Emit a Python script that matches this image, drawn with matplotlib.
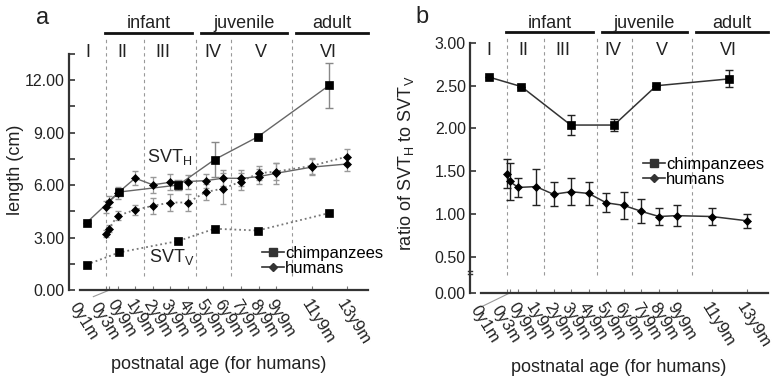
import numpy as np
import matplotlib.pyplot as plt
from matplotlib.lines import Line2D
from matplotlib.transforms import ScaledTranslation

plt.rcParams['font.family'] = ['Liberation Sans', 'DejaVu Sans']
plt.rcParams['mathtext.fontset'] = 'custom'
plt.rcParams['mathtext.rm'] = 'Liberation Sans'
plt.rcParams['mathtext.it'] = 'Liberation Sans'

# ages in (human-equivalent) years
human_age = [0.083, 0.25, 0.75, 1.75, 2.75, 3.75, 4.75, 5.75, 6.75, 7.75, 8.75, 9.75, 11.75, 13.75]
age_labels = ['0y1m', '0y3m', '0y9m', '1y9m', '2y9m', '3y9m', '4y9m', '5y9m', '6y9m',
              '7y9m', '8y9m', '9y9m', '11y9m', '13y9m']
chimp_age_a = [-1.0, 0.86, 4.2, 6.25, 8.7, 12.76]
chimp_age_b = [-0.9, 0.92, 3.73, 6.19, 8.6, 12.73]

# panel a: length (cm)
chimp_h = [3.85, 5.6, 6.0, 7.45, 8.75, 11.7]
chimp_h_err = [0.0, 0.2, 0.3, 1.0, 0.0, 1.3]
chimp_v = [1.45, 2.15, 2.8, 3.5, 3.4, 4.4]
human_h = [4.73, 5.05, 5.53, 6.39, 6.01, 6.16, 6.2, 6.25, 6.39, 6.38, 6.48, 6.67, 7.02, 7.2]
human_h_err = [0.35, 0.3, 0.35, 0.4, 0.45, 0.45, 0.4, 0.4, 0.45, 0.45, 0.45, 0.6, 0.45, 0.4]
human_v = [3.21, 3.49, 4.24, 4.58, 4.81, 5.0, 5.0, 5.6, 5.8, 6.2, 6.67, 6.77, 7.09, 7.62]
human_v_err = [0.2, 0.2, 0.25, 0.3, 0.45, 0.5, 0.5, 0.45, 0.9, 0.5, 0.4, 0.5, 0.45, 0.45]

# panel b: ratio SVT_H / SVT_V
chimp_ratio = [2.60, 2.49, 2.04, 2.04, 2.50, 2.58]
chimp_ratio_err = [0.0, 0.0, 0.12, 0.07, 0.0, 0.1]
human_ratio = [1.47, 1.38, 1.31, 1.32, 1.23, 1.26, 1.24, 1.13, 1.10, 1.03, 0.97, 0.98, 0.97, 0.92]
human_ratio_err = [0.17, 0.22, 0.11, 0.21, 0.14, 0.16, 0.13, 0.11, 0.16, 0.14, 0.1, 0.12, 0.1, 0.08]

# developmental periods
period_bounds = [0.09, 2.23, 5.22, 7.21, 10.63]
roman = ['I', 'II', 'III', 'IV', 'V', 'VI']
roman_x = [-0.92, 1.03, 3.3, 6.15, 8.9, 12.72]
groups = ['infant', 'juvenile', 'adult']
group_span = [(0.06, 5.0), (5.48, 10.35), (10.85, 14.93)]

# the two first age labels are moved left of their ticks (crowded)
moved_label_x = [-1.45, -0.25]

W, H = 781, 376
fig = plt.figure(figsize=(W / 100, H / 100), dpi=100)
ax_a = fig.add_axes([69 / W, 1 - 290 / H, 299 / W, (290 - 53.75) / H])
ax_b = fig.add_axes([470 / W, 1 - 293 / H, 298 / W, 250 / H])

SPINE = '#333333'


def common(ax):
    ax.set_xlim(-2.0, 14.95)
    for s in ['top', 'right']:
        ax.spines[s].set_visible(False)
    for s in ['left', 'bottom']:
        ax.spines[s].set_color(SPINE)
        ax.spines[s].set_linewidth(1.6)
    ax.spines['bottom'].set_bounds(-1.39, 14.95)
    ax.set_xticks(human_age)
    ax.set_xticklabels(['', ''] + age_labels[2:], rotation=-58, ha='left', va='top',
                       rotation_mode='anchor', fontsize=12, color='#222')
    off = ScaledTranslation(0, -7 / 72, fig.dpi_scale_trans)
    for x, lab in zip(moved_label_x, age_labels[:2]):
        ax.text(x, 0, lab, transform=ax.get_xaxis_transform() + off, rotation=-58,
                ha='left', va='top', rotation_mode='anchor', fontsize=12, color='#222')
    ax.tick_params(axis='x', direction='in', length=3, width=0.8, color='#777', pad=5)
    ax.tick_params(axis='y', which='both', direction='in', length=4, width=1.2,
                   color=SPINE, labelsize=11.5, labelcolor='#222', pad=3)
    ax.set_xlabel('postnatal age (for humans)', fontsize=13, color='#222', labelpad=6)


def periods(ax, y_lo, y_hi, y_roman, y_bar, y_group):
    ax.vlines(period_bounds, y_lo, y_hi, colors='#999999', linestyles=(0, (3, 3)),
              linewidth=0.8, clip_on=False)
    for r, x in zip(roman, roman_x):
        ax.text(x, y_roman, r, ha='center', va='center', fontsize=13, color='#222')
    for g, (x0, x1) in zip(groups, group_span):
        ax.plot([x0, x1], [y_bar, y_bar], color='#111', lw=2, clip_on=False)
        ax.text((x0 + x1) / 2, y_group, g, ha='center', va='center', fontsize=13, color='#222')


# ---- panel a ----
ax = ax_a
common(ax)
ax.set_ylim(0, 13.5)
ax.set_yticks(np.arange(0, 12.1, 3))
ax.set_yticks(np.arange(1.5, 13.6, 3), minor=True)
ax.set_yticklabels(['%.2f' % v for v in np.arange(0, 12.1, 3)])
periods(ax, 0.8, 14.5, 13.6, 14.69, 15.25)

ax.errorbar(chimp_age_a, chimp_h, yerr=chimp_h_err, fmt='none', ecolor='#888', elinewidth=1, capsize=3)
ax.errorbar(human_age, human_h, yerr=human_h_err, fmt='none', ecolor='#999', elinewidth=0.9, capsize=2.5)
ax.errorbar(human_age, human_v, yerr=human_v_err, fmt='none', ecolor='#999', elinewidth=0.9, capsize=2.5)
ax.plot(chimp_age_a, chimp_h, '-', color='#666', lw=1)
ax.plot(chimp_age_a, chimp_v, ':', color='#777', lw=1.3)
ax.plot(human_age, human_h, '-', color='#666', lw=1)
ax.plot(human_age, human_v, ':', color='#777', lw=1.3)
ax.plot(chimp_age_a, chimp_h, 's', color='k', ms=5.5, mew=0.5, ls='none')
ax.plot(chimp_age_a, chimp_v, 's', color='k', ms=5.5, mew=0.5, ls='none')
ax.plot(human_age, human_h, 'D', color='k', ms=4, mew=0.5, ls='none')
ax.plot(human_age, human_v, 'D', color='k', ms=4, mew=0.5, ls='none')

ax.text(3.7, 7.6, r'SVT$_\mathrm{H}$', ha='center', va='center', fontsize=13, color='#222')
ax.text(3.8, 1.9, r'SVT$_\mathrm{V}$', ha='center', va='center', fontsize=13, color='#222')
ax.plot([-0.62, 0.3], [-0.38, 0.0], color='#999', lw=0.8, clip_on=False)

handles = [Line2D([0], [0], color='#333', lw=1.2, marker='s', ms=5.5),
           Line2D([0], [0], color='#333', lw=1.2, marker='D', ms=4)]
ax.legend(handles, ['chimpanzees', 'humans'], loc='upper left', bbox_to_anchor=(0.645, 0.185),
          frameon=False, fontsize=12, handlelength=1.3, handletextpad=0.1,
          borderpad=0, borderaxespad=0, labelspacing=0.0)

# ---- panel b ----
ax = ax_b
common(ax)
ax.set_ylim(0.075, 3.0)
ax.set_yticks([0.075, 0.5, 1.0, 1.5, 2.0, 2.5, 3.0])
ax.set_yticklabels(['0.00', '0.50', '1.00', '1.50', '2.00', '2.50', '3.00'])
periods(ax, 0.29, 3.08, 2.91, 3.125, 3.23)

ax.errorbar(chimp_age_b, chimp_ratio, yerr=chimp_ratio_err, fmt='none', ecolor='#222', elinewidth=1, capsize=3)
ax.errorbar(human_age, human_ratio, yerr=human_ratio_err, fmt='none', ecolor='#222', elinewidth=1, capsize=3)
ax.plot(chimp_age_b, chimp_ratio, '-', color='#333', lw=1.1)
ax.plot(human_age, human_ratio, '-', color='#333', lw=1.1)
ax.plot(chimp_age_b, chimp_ratio, 's', color='k', ms=5.5, mew=0.5, ls='none')
ax.plot(human_age, human_ratio, 'D', color='k', ms=4, mew=0.5, ls='none')

ax.plot([-1.34, 0.26], [-0.085, 0.075], color='#999', lw=0.8, clip_on=False)
ax.plot([-2.12, -1.88], [0.33, 0.33], color=SPINE, lw=1, clip_on=False)
ax.plot([-2.12, -1.88], [0.30, 0.30], color=SPINE, lw=1, clip_on=False)

ax.legend(handles, ['chimpanzees', 'humans'], loc='upper left', bbox_to_anchor=(0.58, 0.545),
          frameon=False, fontsize=12, handlelength=1.3, handletextpad=0.1,
          borderpad=0, borderaxespad=0, labelspacing=0.0)

# axis labels and panel letters
fig.text(16 / W, 1 - 170 / H, 'length (cm)', rotation=90, ha='center', va='center',
         fontsize=13, color='#222')
fig.text(406 / W, 1 - 163 / H, r'ratio of SVT$_\mathrm{H}$ to SVT$_\mathrm{V}$', rotation=90,
         ha='center', va='center', fontsize=13, color='#222')
fig.text(43 / W, 1 - 18 / H, 'a', ha='center', va='center', fontsize=17, color='#222')
fig.text(422 / W, 1 - 17 / H, 'b', ha='center', va='center', fontsize=17, color='#222')

fig.savefig('out.png', dpi=100)
